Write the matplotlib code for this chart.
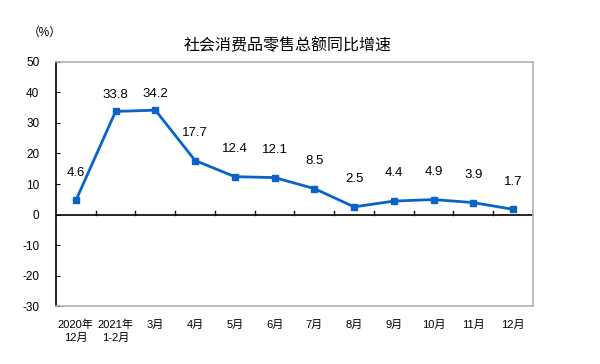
import matplotlib
matplotlib.use("Agg")
import matplotlib.pyplot as plt

plt.rcParams["font.family"] = ["Liberation Sans", "Noto Sans CJK SC"]

categories = ["2020年\n12月", "2021年\n1-2月", "3月", "4月", "5月", "6月",
              "7月", "8月", "9月", "10月", "11月", "12月"]
growth = [4.6, 33.8, 34.2, 17.7, 12.4, 12.1, 8.5, 2.5, 4.4, 4.9, 3.9, 1.7]
yticks = [-30, -20, -10, 0, 10, 20, 30, 40, 50]

BLUE = "#0a64c8"

fig = plt.figure(figsize=(6, 3.64), dpi=100)
ax = fig.add_axes([0.0933, 0.1593, 0.795, 0.6704])

n = len(categories)
xs = list(range(n))
ax.plot(xs, growth, "-s", color=BLUE, lw=2, ms=5)
for x, v in zip(xs, growth):
    off = 12 if v > 30 else 20
    ax.annotate(f"{v}", (x, v), textcoords="offset points", xytext=(0, off),
                ha="center", va="center", fontsize=9.5)

ax.set_xlim(-0.5, n - 0.5)
ax.set_ylim(-30, 50)
ax.set_yticks(yticks)
ax.set_yticklabels([str(t) for t in yticks], fontsize=8.5)
ax.tick_params(axis="y", direction="in", length=3, pad=12)

# category axis sits on y=0 with boundary ticks pointing up
ax.set_xticks([])
ax.axhline(0, color="black", lw=1.2)
for b in range(1, n + 1):
    ax.plot([b - 0.5, b - 0.5], [0, 1.2], color="black", lw=1)
for x, lab in zip(xs, categories):
    ax.text(x, -34.5, lab, ha="center", va="top", fontsize=8, linespacing=1.4)

for side in ["top", "right", "bottom"]:
    ax.spines[side].set_color("#b0b0b0")
    ax.spines[side].set_linewidth(1.2)
ax.spines["left"].set_color("black")
ax.spines["left"].set_linewidth(1.2)

fig.text(0.48, 0.875, "社会消费品零售总额同比增速", ha="center", va="center", fontsize=11.5)
fig.text(0.075, 0.91, "（%）", ha="center", va="center", fontsize=8.5)

fig.savefig("out.png", dpi=100)
